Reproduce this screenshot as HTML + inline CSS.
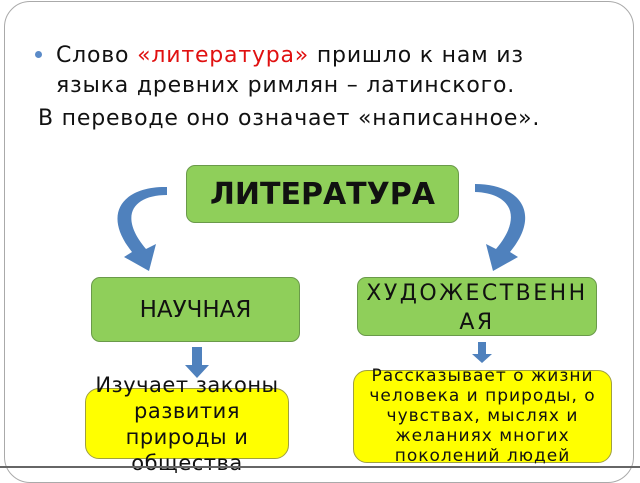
<!DOCTYPE html>
<html><head><meta charset="utf-8"><style>
body{margin:0;width:640px;height:470px;background:#fff;overflow:hidden;position:relative;font-family:"DejaVu Sans","Liberation Sans",sans-serif;}
.frame{position:absolute;left:4px;top:1px;width:628px;height:480px;border:1px solid #aaa;border-radius:26px;}
.t{position:absolute;font-size:22px;letter-spacing:0.8px;color:#111;white-space:nowrap;line-height:24px;}
.box{position:absolute;box-sizing:border-box;border:1.5px solid #6a9a4a;border-radius:9px;background:#8fcf5a;display:flex;align-items:center;justify-content:center;text-align:center;color:#111;white-space:nowrap;}
.y{background:#ffff00;border-color:#a0a040;border-radius:14px;}
</style></head><body>
<div class="frame"></div>
<div style="position:absolute;left:35px;top:51px;width:7px;height:7px;border-radius:50%;background:#5b8bc8"></div>
<div class="t" style="left:56px;top:44px">Слово <span style="color:#e01010">«литература»</span> пришло к нам из</div>
<div class="t" style="left:56px;top:74px">языка древних римлян – латинского.</div>
<div class="t" style="left:38px;top:107px">В переводе оно означает «написанное».</div>

<div class="box" style="left:186px;top:165px;width:273px;height:58px;font-weight:bold;font-size:30px;">ЛИТЕРАТУРА</div>
<div class="box" style="left:91px;top:277px;width:209px;height:65px;font-size:23px;">НАУЧНАЯ</div>
<div class="box" style="left:357px;top:277px;width:240px;height:59px;font-size:22px;letter-spacing:2.5px;line-height:29px;padding-top:2px">ХУДОЖЕСТВЕНН<br>АЯ</div>
<div class="box y" style="left:85px;top:388px;width:204px;height:71px;"></div>
<div class="t" style="left:70px;top:372px;width:234px;text-align:center;font-size:21px;letter-spacing:0.5px;line-height:26px">Изучает законы<br>развития<br>природы и<br>общества</div>
<div class="box y" style="left:353px;top:370px;width:259px;height:93px;"></div>
<div class="t" style="left:353px;top:366px;width:259px;text-align:center;font-size:17px;letter-spacing:1px;line-height:20px">Рассказывает о жизни<br>человека и природы, о<br>чувствах, мыслях и<br>желаниях многих<br>поколений людей</div>

<svg style="position:absolute;left:0;top:0" width="640" height="470">
<g fill="#4f81bd">
<path d="M167,187 C125,186 100,212 132,252 L124,257 L149,271 L156,244 L146,249 C118,216 133,195 167,195 Z"/>
<path d="M475,184 C518,184 543,212 510,252 L518,257 L493,271 L486,244 L496,249 C524,216 510,193 475,192 Z"/>
<path d="M192,347 h10 v18 h7 l-12,13 l-12,-13 h7 z"/>
<path d="M478,342 h8 v12 h6 l-10,9 l-10,-9 h6 z"/>
</g>
<line x1="0" y1="467" x2="640" y2="467" stroke="#666" stroke-width="2"/>
</svg>
</body></html>
